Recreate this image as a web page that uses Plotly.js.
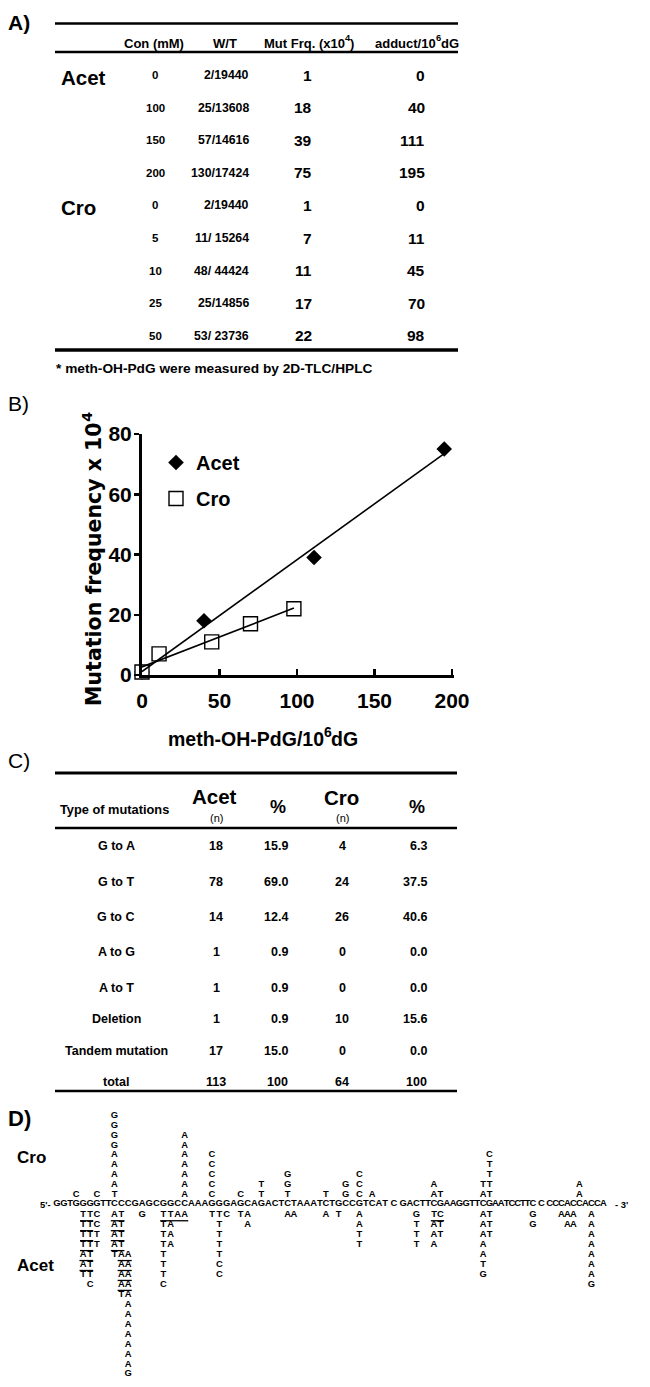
<!DOCTYPE html>
<html><head><meta charset="utf-8">
<script src="https://cdn.plot.ly/plotly-3.0.1.min.js"></script>
<style>html,body{margin:0;padding:0;background:#fff}#chart{width:650px;height:1387px}</style>
</head><body><div id="chart"></div>
<script>
// ================= DATA =================
// Panel A table
const acetConc = [0, 100, 150, 200];
const acetWT = ['2/19440', '25/13608', '57/14616', '130/17424'];
const acetMutFrq = [1, 18, 39, 75];
const acetAdduct = [0, 40, 111, 195];
const croConc = [0, 5, 10, 25, 50];
const croWT = ['2/19440', '11/ 15264', '48/ 44424', '25/14856', '53/ 23736'];
const croMutFrq = [1, 7, 11, 17, 22];
const croAdduct = [0, 11, 45, 70, 98];
// headers: [text, superscript, text after]
const tableAHeaders = [['Con (mM)', '', ''], ['W/T', '', ''], ['Mut Frq. (x10', '4', ')'], ['adduct/10', '6', 'dG']];
const tableANote = '* meth-OH-PdG were measured by 2D-TLC/HPLC';

// Panel B axes
const bXTicks = [0, 50, 100, 150, 200];
const bYTicks = [0, 20, 40, 60, 80];
const bXTitle = ['meth-OH-PdG/10', '6', 'dG'];
const bYTitle = ['Mutation frequency x 10', '4', ''];

// Panel C table
const mutTypes = ['G to A', 'G to T', 'G to C', 'A to G', 'A to T', 'Deletion', 'Tandem mutation', 'total'];
const mutAcetN = [18, 78, 14, 1, 1, 1, 17, 113];
const mutAcetPct = ['15.9', '69.0', '12.4', '0.9', '0.9', '0.9', '15.0', '100'];
const mutCroN = [4, 24, 26, 0, 0, 10, 0, 64];
const mutCroPct = ['6.3', '37.5', '40.6', '0.0', '0.0', '15.6', '0.0', '100'];

// Panel D mutation spectrum (lowercase = underlined tandem letters; ' ' = skip a base)
const dnaSeq = "GGTGGGGTTCCCGAGCGGCCAAAGGGAGCAGACTCTAAATCTGCCGTCAT C GACTTCGAAGGTTCGAATCCTTC C CCCACCACCA";
const croSpectrum = [
  {at: 3, rows: ['C']},
  {at: 6, rows: ['C']},
  {at: 9, rows: ['T', 'A', 'A', 'A', 'A', 'G', 'G', 'G', 'G']},
  {at: 19, rows: ['A', 'A', 'A', 'A', 'A', 'A', 'A']},
  {at: 23, rows: ['C', 'C', 'C', 'C', 'C']},
  {at: 27, rows: ['C']},
  {at: 30, rows: ['T', 'T']},
  {at: 34, rows: ['T', 'G', 'G']},
  {at: 40, rows: ['T']},
  {at: 43, rows: ['G', 'G']},
  {at: 45, rows: ['C', 'C', 'C']},
  {at: 47, rows: ['A']},
  {at: 58, rows: ['AT', 'A']},
  {at: 66, rows: ['AT', 'TT', ' T', ' T', ' C']},
  {at: 84, rows: ['A', 'A']}
];
const acetSpectrum = [
  {at: 4, rows: ['ttC', 'ttC', 'ttT', 'ttT', 'at', 'at', 'TT', ' C']},
  {at: 9, rows: ['at', 'at', 'at', 'at', 'Taa', ' aa', ' aa', ' aa', ' TA', '  A', '  A', '  A', '  A', '  A', '  A', '  A', '  G']},
  {at: 13, rows: ['G']},
  {at: 16, rows: ['ttaa', 'TA', 'TA', 'TA', 'T', 'T', 'T', 'C']},
  {at: 23, rows: ['TTC', ' T', ' T', ' T', ' T', ' C', ' C']},
  {at: 27, rows: ['TA', ' A']},
  {at: 34, rows: ['AA']},
  {at: 40, rows: ['A']},
  {at: 42, rows: ['T']},
  {at: 45, rows: ['A', 'A', 'T', 'T']},
  {at: 55, rows: ['G', 'T', 'T', 'T']},
  {at: 58, rows: ['tc', 'AT', 'AT', 'A']},
  {at: 66, rows: ['AT', 'AT', 'AT', 'A', 'A', 'T', 'G']},
  {at: 75, rows: ['G', 'G']},
  {at: 81, rows: ['AAA  A', ' AA  A', '     A', '     A', '     A', '     A', '     A', '     G']}
];

// ================= LAYOUT HELPERS =================
const W = 650, H = 1387;
const FS = '"Liberation Sans", Arial, sans-serif';
const FD = '"DejaVu Sans", sans-serif';
const annotations = [], shapes = [], traces = [];
const cv = document.createElement('canvas').getContext('2d');
function measure(t, size, fam) { cv.font = 'bold ' + size + 'px ' + fam; return cv.measureText(t).width; }
function txt(text, x, y, o = {}) {
  annotations.push({
    text: text, x: x, y: y, xref: 'x2', yref: 'y2', showarrow: false, borderpad: o.bp === undefined ? 1 : o.bp,
    xanchor: o.xa || 'center', yanchor: o.ya || 'middle',
    textangle: o.angle || 0,
    font: {family: o.family || FS, size: o.size || 13, color: '#000', weight: o.weight || 'bold'}
  });
}
// text with a real raised superscript, built from separate pieces
function supTxt(parts, x, y, o) {
  const fam = o.family || FS, s = o.size, ss = s * 0.72;
  const sizes = [s, ss, s];
  const widths = parts.map((t, i) => t ? measure(t, sizes[i], fam) : 0);
  const total = widths[0] + widths[1] + widths[2];
  if (!o.vertical) {
    let cur = (o.xa === 'left') ? x : x - total / 2;
    parts.forEach((t, i) => {
      if (t) txt(t, cur, i === 1 ? y - s * 0.36 : y, {xa: 'left', size: sizes[i], family: fam, bp: 0});
      cur += widths[i];
    });
  } else {
    let cur = y + total / 2;
    parts.forEach((t, i) => {
      if (t) txt(t, i === 1 ? x - s * 0.36 : x, cur, {ya: 'bottom', angle: -90, size: sizes[i], family: fam, bp: 0});
      cur -= widths[i];
    });
  }
}
function hline(x0, x1, y, w) {
  shapes.push({type: 'line', xref: 'x2', yref: 'y2', x0: x0, x1: x1, y0: y, y1: y,
    line: {color: '#000', width: w}});
}

// ================= PANEL A =================
txt('A)', 6, 22, {xa: 'left', size: 21});
hline(55, 458, 23.5, 2.5);
hline(55, 458, 52, 2.5);
hline(55, 458, 350, 3.5);
const aHeadX = [152.5, 224, 308, 416];
tableAHeaders.forEach((h, i) => supTxt(h, aHeadX[i], 43, {size: 13}));
const aGroups = [
  {name: 'Acet', conc: acetConc, wt: acetWT, mf: acetMutFrq, ad: acetAdduct},
  {name: 'Cro', conc: croConc, wt: croWT, mf: croMutFrq, ad: croAdduct}
];
let aRow = 0;
aGroups.forEach(g => {
  txt(g.name, 59, 75 + aRow * 32.6 + 2, {xa: 'left', size: 20.5});
  g.conc.forEach((c, i) => {
    const y = 75 + (aRow + i) * 32.6;
    txt(String(c), 155, y, {size: 11.5});
    txt(g.wt[i], 250.5, y, {xa: 'right', size: 12.3});
    txt(String(g.mf[i]), 313.5, y, {xa: 'right', size: 15.5});
    txt(String(g.ad[i]), 426.5, y, {xa: 'right', size: 15.5});
  });
  aRow += g.conc.length;
});
txt(tableANote, 54, 368, {xa: 'left', size: 13.7});

// ================= PANEL B =================
txt('B)', 6, 403, {xa: 'left', size: 21, weight: 'normal'});
supTxt(bYTitle, 94, 560, {size: 20.5, family: FD, vertical: true});
supTxt(bXTitle, 262, 739, {size: 19.5});

function linFit(xs, ys) {
  const n = xs.length;
  const mx = xs.reduce((a, b) => a + b, 0) / n, my = ys.reduce((a, b) => a + b, 0) / n;
  let sxy = 0, sxx = 0;
  for (let i = 0; i < n; i++) { sxy += (xs[i] - mx) * (ys[i] - my); sxx += (xs[i] - mx) ** 2; }
  const b = sxy / sxx, a = my - b * mx;
  const x0 = Math.min(...xs), x1 = Math.max(...xs);
  return {x: [x0, x1], y: [a + b * x0, a + b * x1]};
}
const fitA = linFit(acetAdduct, acetMutFrq);
const fitC = linFit(croAdduct, croMutFrq);
traces.push({type: 'scatter', mode: 'markers', name: 'Acet', legendgroup: 'a', x: acetAdduct, y: acetMutFrq,
  marker: {symbol: 'diamond', size: 12, color: '#000'}, cliponaxis: false, hoverinfo: 'skip'});
traces.push({type: 'scatter', mode: 'markers', name: 'Cro', legendgroup: 'c', x: croAdduct, y: croMutFrq,
  marker: {symbol: 'square', size: 14, color: '#fff', line: {color: '#000', width: 1.4}}, cliponaxis: false, hoverinfo: 'skip'});
traces.push({type: 'scatter', mode: 'lines', x: fitA.x, y: fitA.y, line: {color: '#000', width: 1.6}, showlegend: false, hoverinfo: 'skip', cliponaxis: false});
traces.push({type: 'scatter', mode: 'lines', x: fitC.x, y: fitC.y, line: {color: '#000', width: 1.6}, showlegend: false, hoverinfo: 'skip', cliponaxis: false});

// ================= PANEL C =================
txt('C)', 6, 760, {xa: 'left', size: 21, weight: 'normal'});
hline(55, 457, 773, 3);
hline(55, 457, 828, 2.7);
hline(55, 457, 1091, 2.7);
txt('Type of mutations', 114, 809, {size: 12.8});
txt('Acet', 214, 796, {size: 20.5});
txt('(n)', 216, 818, {size: 11, weight: 'normal'});
txt('%', 278, 807, {size: 18});
txt('Cro', 341, 797, {size: 20.5});
txt('(n)', 342, 818, {size: 11, weight: 'normal'});
txt('%', 416.5, 807, {size: 18});
const cRowY = [846, 881.7, 917.3, 952.3, 988.3, 1019.3, 1050.7, 1082.3];
mutTypes.forEach((t, i) => {
  const y = cRowY[i];
  txt(t, 116, y, {size: 12.5});
  txt(String(mutAcetN[i]), 216, y, {size: 12.5});
  txt(mutAcetPct[i], 290, y, {xa: 'right', size: 12.5});
  txt(String(mutCroN[i]), 342, y, {size: 12.5});
  txt(mutCroPct[i], 429, y, {xa: 'right', size: 12.5});
});

// ================= PANEL D =================
txt('D)', 6, 1118, {xa: 'left', size: 22});
txt('Cro', 15, 1157, {xa: 'left', size: 17});
txt('Acet', 15, 1265, {xa: 'left', size: 17});

const SEQ_SIZE = 9.4;
let acc = 0; const natC = [], natW = [];
for (const ch of dnaSeq) { const w = measure(ch, SEQ_SIZE, '"Liberation Sans"'); natW.push(w); natC.push(acc + w / 2); acc += w; }
// piecewise calibration of the typeset sequence (base index -> pixel x of its centre)
const calIdx = [0, 9, 23, 51, 58, 67, 75, 88];
const calX = [57, 114.5, 212, 394, 434, 489.5, 533, 603.3];
function baseX(i) {
  let s = 0;
  while (s < calIdx.length - 2 && i > calIdx[s + 1]) s++;
  const a = calIdx[s], b = calIdx[s + 1];
  return calX[s] + (natC[i] - natC[a]) / (natC[b] - natC[a]) * (calX[s + 1] - calX[s]);
}
const cx = natC.map((_, i) => baseX(i));
const SEQ_Y = 1204, UP = 9.8, DN = 9.95, DN0 = 1;
const seqFont = {family: FS, size: SEQ_SIZE, color: '#000', weight: 'bold'};

const sX = [], sY = [], sT = [];
for (let i = 0; i < dnaSeq.length; i++) if (dnaSeq[i] !== ' ') { sX.push(cx[i]); sY.push(SEQ_Y); sT.push(dnaSeq[i]); }
traces.push({type: 'scatter', mode: 'text', x: sX, y: sY, text: sT, textposition: 'middle center', textfont: seqFont,
  xaxis: 'x2', yaxis: 'y2', showlegend: false, hoverinfo: 'skip', cliponaxis: false});
annotations.push({text: "5'-", x: cx[0] - natW[0] / 2 - 0.3, y: SEQ_Y, xref: 'x2', yref: 'y2', showarrow: false,
  xanchor: 'right', yanchor: 'middle', font: seqFont});
const last = dnaSeq.length - 1;
annotations.push({text: "- 3'", x: cx[last] + natW[last] / 2 + 6, y: SEQ_Y, xref: 'x2', yref: 'y2', showarrow: false,
  xanchor: 'left', yanchor: 'middle', font: seqFont});

function spectrum(list, dir) {
  const X = [], Y = [], T = [];
  list.forEach(col => col.rows.forEach((row, r) => {
    const y = dir < 0 ? SEQ_Y - UP * (r + 1) : SEQ_Y + DN0 + DN * (r + 1);
    let run = null;
    for (let j = 0; j <= row.length; j++) {
      const ch = row[j];
      const idx = col.at + j;
      const isL = ch !== undefined && ch !== ' ';
      const ul = isL && ch === ch.toLowerCase();
      if (isL) { X.push(cx[idx]); Y.push(y); T.push(ch.toUpperCase()); }
      if (ul) { if (!run) run = {a: idx, b: idx, ca: ch, cb: ch}; else { run.b = idx; run.cb = ch; } }
      else if (run) {
        const ha = measure(run.ca.toUpperCase(), SEQ_SIZE, '"Liberation Sans"') / 2;
        const hb = measure(run.cb.toUpperCase(), SEQ_SIZE, '"Liberation Sans"') / 2;
        shapes.push({type: 'line', xref: 'x2', yref: 'y2', x0: cx[run.a] - ha - 0.3, x1: cx[run.b] + hb + 0.3,
          y0: y + 5.8, y1: y + 5.8, line: {color: '#000', width: 1.3}});
        run = null;
      }
    }
  }));
  traces.push({type: 'scatter', mode: 'text', x: X, y: Y, text: T, textposition: 'middle center', textfont: seqFont,
    xaxis: 'x2', yaxis: 'y2', showlegend: false, hoverinfo: 'skip', cliponaxis: false});
}
spectrum(croSpectrum, -1);
spectrum(acetSpectrum, 1);

// ================= FIGURE =================
const yb = 675, yt = 434, xl = 142, xr = 454.3;
const layout = {
  width: W, height: H, margin: {l: 0, r: 0, t: 0, b: 0, pad: 0},
  paper_bgcolor: '#fff', plot_bgcolor: 'rgba(0,0,0,0)',
  showlegend: true,
  legend: {x: 156 / W, y: 1 - 443 / H, xanchor: 'left', yanchor: 'top', bgcolor: 'rgba(0,0,0,0)',
    font: {family: FS, size: 20, color: '#000', weight: 'bold'}, tracegroupgap: 7, itemsizing: 'trace'},
  xaxis: {domain: [xl / W, xr / W], range: [0, 201.5], anchor: 'y', showline: true, linewidth: 3, linecolor: '#000',
    ticks: 'inside', ticklen: 6, tickwidth: 2.5, tickcolor: '#000', tickvals: bXTicks, ticktext: bXTicks.map(String),
    tickfont: {family: FS, size: 21, color: '#000', weight: 'bold'}, showgrid: false, zeroline: false, fixedrange: true,
    ticklabelstandoff: 5},
  yaxis: {domain: [1 - yb / H, 1 - yt / H], range: [0, 80], anchor: 'x', showline: true, linewidth: 3, linecolor: '#000',
    ticks: 'outside', ticklen: 5, tickwidth: 2.5, tickcolor: '#000', tickvals: bYTicks, ticktext: bYTicks.map(String),
    tickfont: {family: FS, size: 21, color: '#000', weight: 'bold'}, showgrid: false, zeroline: false, fixedrange: true,
    ticklabelstandoff: -2},
  xaxis2: {domain: [0, 1], range: [0, W], anchor: 'y2', visible: false, fixedrange: true},
  yaxis2: {domain: [0, 1], range: [H, 0], anchor: 'x2', visible: false, fixedrange: true},
  annotations: annotations, shapes: shapes
};
Plotly.newPlot('chart', traces, layout, {displayModeBar: false, staticPlot: true});
</script>
</body></html>
